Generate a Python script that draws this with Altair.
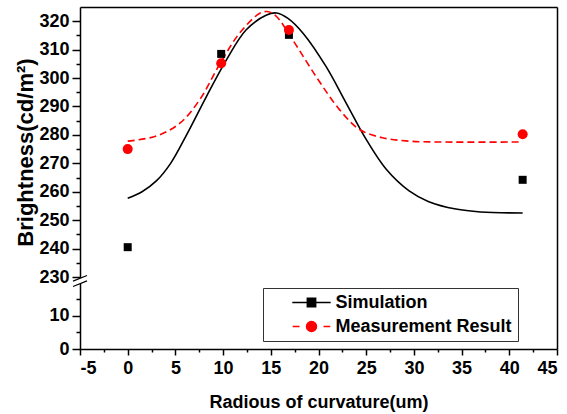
import altair as alt
import pandas as pd

# ---- data ----
radius = [0, 9.8, 16.9, 41.4]
sim_vals = [240.5, 308.5, 315.2, 264.2]
meas_vals = [275.0, 305.2, 316.9, 280.2]

sim_fit_x = [0, 1.5, 3.0, 4.5, 6.2, 8.25, 10.35, 12.4, 14.5, 15.6, 16.8, 18.4, 20.8, 22.9, 25, 27.1, 29.5, 31.5, 34.4, 37, 41.4]
sim_fit_y = [257.7, 260.0, 263.8, 270.0, 280.2, 293.5, 306.4, 316.9, 322.1, 322.9, 321.0, 315.7, 304.0, 291.2, 278.4, 267.9, 260.3, 256.6, 253.9, 252.9, 252.5]

meas_fit_x = [0, 3.0, 5.5, 7.55, 9.6, 11.7, 13.8, 14.6, 15.5, 17.3, 19.75, 22.2, 24.3, 26.7, 29.5, 33, 41.4]
meas_fit_y = [277.8, 279.6, 284.2, 292.4, 304.6, 315.7, 322.7, 323.4, 322.0, 313.4, 300.5, 288.9, 281.9, 279.0, 277.8, 277.5, 277.5]

series = ["Simulation", "Measurement Result"]
colors = ["#000000", "#ff0000"]

x_major = [-5, 0, 5, 10, 15, 20, 25, 30, 35, 40, 45]
x_minor = [-2.5, 2.5, 7.5, 12.5, 17.5, 22.5, 27.5, 32.5, 37.5, 42.5]
y_major = [0, 10, 230, 240, 250, 260, 270, 280, 290, 300, 310, 320]
y_minor = [5, 15, 235, 245, 255, 265, 275, 285, 295, 305, 315]

# broken axis: lower segment 0-20.5, upper segment 228.6-325
y_domain = [0, 20.5, 228.6, 325]

W, H = 477, 342
y_range = [H, 274, 274, 0]

FONT = "Liberation Sans"

sim_fit_df = pd.DataFrame({"x": sim_fit_x, "y": sim_fit_y})
meas_fit_df = pd.DataFrame({"x": meas_fit_x, "y": meas_fit_y})
sim_df = pd.DataFrame({"x": radius, "y": sim_vals})
meas_df = pd.DataFrame({"x": radius, "y": meas_vals})
leg_df = pd.DataFrame({"x": radius * 2, "y": sim_vals + meas_vals,
                       "series": [series[0]] * 4 + [series[1]] * 4})
brk_df = pd.DataFrame({"b": [y_domain[2]]})

xs = alt.Scale(domain=[-5, 45], nice=False, zero=False)
ys = alt.Scale(domain=y_domain, range=y_range, nice=False, zero=False)


def X(axis):
    return alt.X("x:Q", scale=xs, axis=axis)


def Y(axis, field="y:Q"):
    return alt.Y(field, scale=ys, axis=axis)


x_main_axis = alt.Axis(orient="bottom", values=x_major, tickSize=6, labelPadding=4,
                       labelExpr="datum.value + ''",
                       title="Radious of curvature(um)", titleFontSize=18,
                       titleX=W / 2, titleY=58, titleBaseline="alphabetic")
y_main_axis = alt.Axis(orient="left", values=y_major, tickSize=8, labelPadding=3,
                       labelExpr="datum.value + ''",
                       title="Brightness(cd/m²)", titleFontSize=22,
                       titleX=-55, titleY=145, titleAngle=270,
                       titleAlign="center", titleBaseline="middle")
x_top_axis = alt.Axis(orient="top", ticks=False, labels=False, title=None, domain=True)
y_right_axis = alt.Axis(orient="right", ticks=False, labels=False, title=None, domain=True)
x_minor_axis = alt.Axis(orient="bottom", values=x_minor, tickSize=3, labels=False,
                        domain=False, title=None)
y_minor_axis = alt.Axis(orient="left", values=y_minor, tickSize=4, labels=False,
                        domain=False, title=None)

sim_line = alt.Chart(sim_fit_df).mark_line(
    color="black", strokeWidth=1.6, interpolate="catmull-rom"
).encode(x=X(x_main_axis), y=Y(y_main_axis))

meas_line = alt.Chart(meas_fit_df).mark_line(
    color="#ff0000", strokeWidth=1.6, strokeDash=[7, 4], interpolate="catmull-rom"
).encode(x=X(x_top_axis), y=Y(y_right_axis))

minor = alt.Chart(sim_df).mark_point(opacity=0).encode(
    x=X(x_minor_axis), y=Y(y_minor_axis))

sim_pts = alt.Chart(sim_df).mark_point(
    shape="square", filled=True, color="black", size=64, opacity=1
).encode(x=X(None), y=Y(None))

meas_pts = alt.Chart(meas_df).mark_point(
    shape="circle", filled=True, color="#ff0000", size=100, opacity=1
).encode(x=X(None), y=Y(None))

sym_paths = [
    "M-2.4,0H2.4M-0.52,-0.52H0.52V0.52H-0.52Z",
    "M-2.35,0H-1.5M1.5,0H2.35M0.62,0A0.62,0.62,0,1,1,-0.62,0A0.62,0.62,0,1,1,0.62,0Z",
]
lab_expr = "datum.label + '\u00a0\u00a0\u00a0\u00a0\u00a0'"


def leg():
    return alt.Legend(title=None, labelExpr=lab_expr)


legend_layer = alt.Chart(leg_df).transform_filter("datum.x < -100").mark_point(
    filled=True, size=256, opacity=1, strokeWidth=1.5
).encode(
    x=X(None), y=Y(None),
    fill=alt.Fill("series:N", scale=alt.Scale(domain=series, range=colors), legend=leg()),
    stroke=alt.Stroke("series:N", scale=alt.Scale(domain=series, range=colors), legend=leg()),
    shape=alt.Shape("series:N", scale=alt.Scale(domain=series, range=sym_paths), legend=leg()),
)

brk_fill = alt.Chart(brk_df).mark_point(
    shape="M-0.875,0.015L0.875,-0.695L0.875,-0.015L-0.875,0.695Z",
    filled=True, fill="white", strokeWidth=0, size=256, opacity=1
).encode(x=alt.value(0), y=Y(None, "b:Q"))

brk_lines = alt.Chart(brk_df).mark_point(
    shape="M-0.875,0.015L0.875,-0.695M-0.875,0.695L0.875,-0.015",
    filled=False, stroke="black", strokeWidth=1.2, size=256, opacity=1
).encode(x=alt.value(0), y=Y(None, "b:Q"))

chart = alt.layer(
    sim_line, meas_line, minor, sim_pts, meas_pts, legend_layer, brk_fill, brk_lines
).resolve_axis(x="independent", y="independent").properties(
    width=W, height=H,
    autosize=alt.AutoSizeParams(type="none"),
    padding={"left": 80, "top": 7, "right": 10, "bottom": 65},
).configure_view(stroke=None).configure_axis(
    grid=False, labelFont=FONT, labelFontSize=18, labelFontWeight="bold",
    labelColor="black", titleFont=FONT, titleFontWeight="bold", titleColor="black",
    domainColor="black", domainWidth=1.5, tickColor="black", tickWidth=1.5,
).configure_legend(
    orient="none", legendX=183, legendY=281, padding=5.5,
    fillColor="white", strokeColor="#333333",
    labelFont=FONT, labelFontSize=18, labelFontWeight="bold", labelColor="black",
    labelLimit=400,
    symbolSize=256, symbolStrokeWidth=1.5, symbolOffset=34, labelOffset=15,
    rowPadding=6,
)

chart.save("out.html", embed_options={"renderer": "svg", "actions": False})
